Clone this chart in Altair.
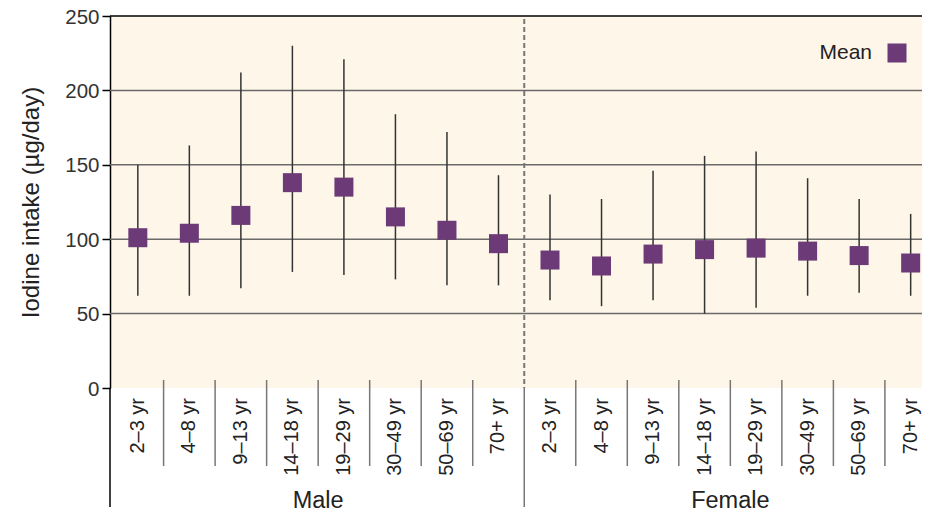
import altair as alt
import pandas as pd

# ---------------- data ----------------
groups = ["Male", "Female"]
ages = ["2–3 yr", "4–8 yr", "9–13 yr", "14–18 yr", "19–29 yr", "30–49 yr", "50–69 yr", "70+ yr"]
male_mean = [101, 104, 116, 138, 135, 115, 106, 97]
male_low = [62, 62, 67, 78, 76, 73, 69, 69]
male_high = [150, 163, 212, 230, 221, 184, 172, 143]
female_mean = [86, 82, 90, 93, 94, 92, 89, 84]
female_low = [59, 55, 59, 50, 54, 62, 64, 62]
female_high = [130, 127, 146, 156, 159, 141, 127, 117]
grid_values = [50, 100, 150, 200]
y_ticks = [0, 50, 100, 150, 200, 250]

FONT = "Liberation Sans"
PURPLE = "#6B3A77"
TXT = "#222222"

rows = []
for g, means, lows, highs in [("Male", male_mean, male_low, male_high),
                              ("Female", female_mean, female_low, female_high)]:
    for a, m, lo, hi in zip(ages, means, lows, highs):
        rows.append({"group": g, "age": a, "mean": m, "low": lo, "high": hi})
df = pd.DataFrame(rows)
df["pos"] = [i + 0.5 for i in range(len(df))]

n = len(ages)
seps = pd.DataFrame({"pos": [i for i in range(1, 2 * n) if i != n]})
divider = pd.DataFrame({"pos": [n]})
group_df = pd.DataFrame({"group": groups, "pos": [n / 2, n * 1.5]})
grid_df = pd.DataFrame({"v": grid_values})
top_df = pd.DataFrame({"v": [250]})
legend_df = pd.DataFrame({"label": ["Mean"]})

W, H = 812, 372
xscale = alt.Scale(domain=[-0.04, 15.72], nice=False, zero=False)
yscale = alt.Scale(domain=[0, 250], nice=False)

X = alt.X("pos:Q", scale=xscale, axis=None)

yaxis = alt.Axis(values=y_ticks, grid=False, domainColor="#000", domainWidth=1.5,
                 tickColor="#000", tickWidth=1.5, tickSize=8,
                 labelFont=FONT, labelFontSize=20.5, labelColor="#333", labelPadding=3,
                 labelOffset=1,
                 title="Iodine intake (µg/day)", titleFont=FONT, titleFontSize=24,
                 titleFontWeight="normal", titleColor=TXT, titlePadding=21)

grid = alt.Chart(grid_df).mark_rule(color="#6a6a6a", strokeWidth=1.5).encode(
    y=alt.Y("v:Q", scale=yscale, axis=yaxis))

top = alt.Chart(top_df).mark_rule(color="#000", strokeWidth=1.5).encode(
    y=alt.Y("v:Q", scale=yscale))

dash = alt.Chart(divider).mark_rule(color="#777", strokeWidth=2, strokeDash=[5, 3]).encode(
    x=X, y=alt.value(3), y2=alt.value(H))

div_low = alt.Chart(divider).mark_rule(color="#777", strokeWidth=1.5).encode(
    x=X, y=alt.value(H), y2=alt.value(H + 119))

left_low = alt.Chart(divider).mark_rule(color="#000", strokeWidth=1.5).encode(
    x=alt.value(0), y=alt.value(H), y2=alt.value(H + 119))

sep = alt.Chart(seps).mark_rule(color="#777", strokeWidth=1.5).encode(
    x=X, y=alt.value(H - 8), y2=alt.value(H + 78))

whisk = alt.Chart(df).mark_rule(color="#333", strokeWidth=1.5).encode(
    x=X, y=alt.Y("low:Q", scale=yscale), y2="high:Q")

squares = alt.Chart(df).mark_square(size=361, color=PURPLE, opacity=1).encode(
    x=X, y=alt.Y("mean:Q", scale=yscale))

labels = alt.Chart(df).mark_text(angle=270, align="right", baseline="middle",
                                 font=FONT, fontSize=20, color=TXT).encode(
    x=X, y=alt.value(H + 10), text="age:N")

glabels = alt.Chart(group_df).mark_text(align="center", baseline="alphabetic",
                                        font=FONT, fontSize=23.5, color=TXT).encode(
    x=X, y=alt.value(H + 120), text="group:N")

leg_text = alt.Chart(legend_df).mark_text(align="right", baseline="middle",
                                          font=FONT, fontSize=21, color=TXT).encode(
    x=alt.value(762), y=alt.value(37), text="label:N")
leg_sq = alt.Chart(legend_df).mark_square(size=361, color=PURPLE, opacity=1).encode(
    x=alt.value(787), y=alt.value(37))

chart = alt.layer(grid, top, dash, whisk, squares, sep, div_low, left_low,
                  labels, glabels, leg_text, leg_sq).properties(
    width=W, height=H,
    autosize=alt.AutoSizeParams(type="none"),
    padding={"left": 102, "top": 8, "right": 0, "bottom": 125},
    background="white",
).configure_view(fill="#FEF6E9", stroke=None)

chart.save("out.html", embed_options={"renderer": "svg", "actions": False})
